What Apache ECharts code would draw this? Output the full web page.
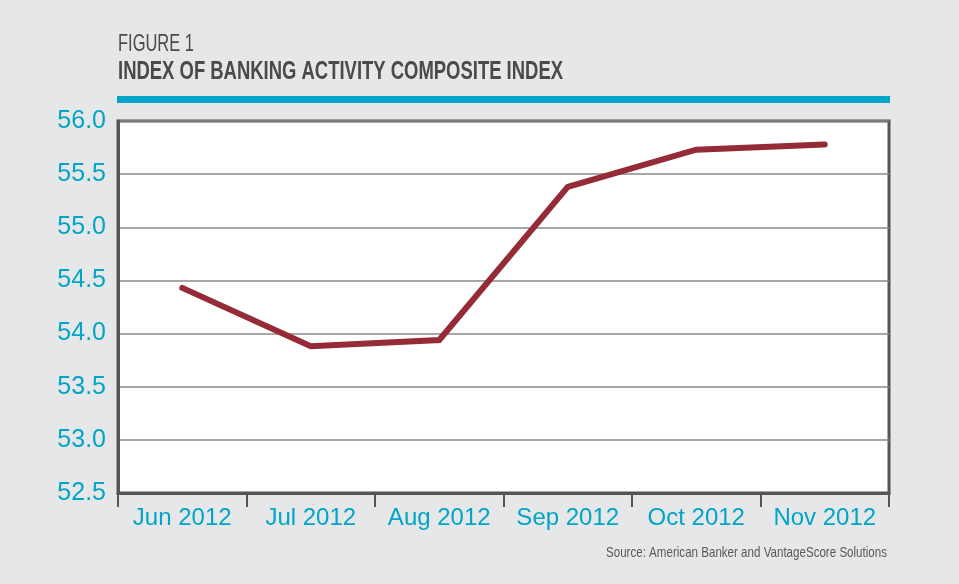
<!DOCTYPE html>
<html><head><meta charset="utf-8">
<script src="https://cdn.jsdelivr.net/npm/echarts@6/dist/echarts.min.js"></script>
<style>html,body{margin:0;padding:0;background:#e6e7e8;}#c{width:959px;height:584px;}</style>
</head><body><div id="c"></div>
<script>
const categories = ['Jun 2012','Jul 2012','Aug 2012','Sep 2012','Oct 2012','Nov 2012'];
const indexValues = [54.43, 53.88, 53.94, 55.38, 55.73, 55.78];
const yMin = 52.5, yMax = 56.0, yStep = 0.5;
const titleTop = 'FIGURE 1';
const titleMain = 'INDEX OF BANKING ACTIVITY COMPOSITE INDEX';
const sourceText = 'Source: American Banker and VantageScore Solutions';

const FONT = "'Liberation Sans',Arial,sans-serif";
const TEAL = '#00a5c8';
const GREY = '#4a4a4c';

const ctx = document.createElement('canvas').getContext('2d');
function fitScale(text, font, target) {
  ctx.font = font;
  return target / ctx.measureText(text).width;
}
const fTop = "24px 'Liberation Sans'";
const fMain = "bold 25px 'Liberation Sans'";
const fSrc = "15px 'Liberation Sans'";

const chart = echarts.init(document.getElementById('c'));
chart.setOption({
  backgroundColor: '#e6e7e8',
  animation: false,
  graphic: [
    {type: 'text', x: 118, y: 44, scaleX: fitScale(titleTop, fTop, 76),
     style: {text: titleTop, font: fTop, fill: GREY, verticalAlign: 'middle'}},
    {type: 'text', x: 118, y: 72, scaleX: fitScale(titleMain, fMain, 445),
     style: {text: titleMain, font: fMain, fill: GREY, verticalAlign: 'middle'}},
    {type: 'rect', shape: {x: 117, y: 96, width: 773, height: 7}, style: {fill: TEAL}},
    {type: 'text', x: 887, y: 553, scaleX: fitScale(sourceText, fSrc, 281),
     style: {text: sourceText, font: fSrc, fill: '#58595b', align: 'right', verticalAlign: 'middle'}}
  ],
  grid: {left: 118, right: 70, top: 121, bottom: 91, show: true, backgroundColor: '#ffffff', borderColor: '#555557', borderWidth: 3, z: 0},
  xAxis: {
    type: 'category', data: categories, boundaryGap: true,
    axisLine: {show: true, lineStyle: {color: '#555557', width: 3}},
    axisTick: {show: true, length: 14, lineStyle: {color: '#555557', width: 2}},
    axisLabel: {interval: 0, fontFamily: FONT, fontSize: 24, color: TEAL, margin: 13}
  },
  yAxis: {
    type: 'value', min: yMin, max: yMax, interval: yStep,
    axisLine: {show: true, lineStyle: {color: '#555557', width: 3}},
    axisTick: {show: false},
    splitLine: {show: true, lineStyle: {color: '#8a8a8c', width: 1.5}},
    axisLabel: {fontFamily: FONT, fontSize: 25, color: TEAL, margin: 12, formatter: v => v.toFixed(1)}
  },
  series: [{
    type: 'line', data: indexValues, symbol: 'none',
    lineStyle: {color: '#952b36', width: 6, cap: 'round', join: 'miter'}
  }]
});
</script></body></html>
